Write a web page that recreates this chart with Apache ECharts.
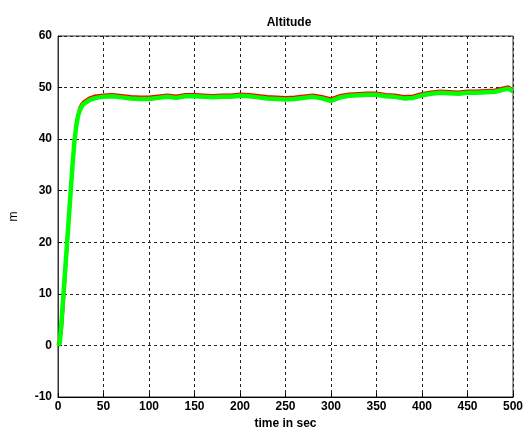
<!DOCTYPE html>
<html lang="en">
<head>
    <meta charset="UTF-8">
    <title>Altitude</title>
    <script type="text/javascript" src="https://cdn.jsdelivr.net/npm/echarts@6/dist/echarts.min.js"></script>
    <style>
        html, body { margin: 0; padding: 0; background: #fff; }
    </style>
</head>
<body>
    <div id="main" style="width: 531px; height: 435px;"></div>
    <script type="text/javascript">
        // time axis (s)
        var times = [0, 2, 4, 6, 8, 10, 12, 14, 16, 18, 20, 22, 24, 26, 28, 30, 35, 40, 45, 50,
            60, 70, 80, 90, 100, 110, 120, 130, 140, 150, 160, 170, 180, 190, 200,
            210, 220, 230, 240, 250, 260, 270, 280, 290, 300, 310, 320, 330, 340, 350,
            360, 370, 380, 390, 400, 410, 420, 430, 440, 450, 460, 470, 480, 490, 495, 500];

        // measured / reference altitude (red)
        var redAlt = [0, 0, 2.5, 7.5, 13, 18.5, 24, 29.5, 35, 40, 43, 45, 46.2, 46.9, 47.3, 47.6, 48.1, 48.4, 48.5, 48.6,
            48.7, 48.5, 48.3, 48.2, 48.2, 48.4, 48.6, 48.4, 48.7, 48.7, 48.6, 48.5, 48.6, 48.6, 48.8,
            48.7, 48.5, 48.3, 48.2, 48.1, 48.2, 48.4, 48.6, 48.3, 47.9, 48.5, 48.8, 48.9, 49.0, 49.0,
            48.7, 48.6, 48.3, 48.4, 48.9, 49.2, 49.4, 49.3, 49.2, 49.4, 49.4, 49.5, 49.6, 50.0, 50.2, 49.6];

        // estimated altitude (green)
        var greenAlt = [0, 0.5, 5, 10, 15, 20, 25, 30, 35, 39.5, 42.5, 44.5, 45.6, 46.3, 46.8, 47.1, 47.6, 47.9, 48.1, 48.2,
            48.3, 48.1, 47.9, 47.8, 47.8, 48.0, 48.2, 48.0, 48.3, 48.3, 48.2, 48.1, 48.2, 48.2, 48.4,
            48.3, 48.1, 47.9, 47.8, 47.7, 47.8, 48.0, 48.2, 47.9, 47.4, 48.1, 48.4, 48.5, 48.6, 48.6,
            48.3, 48.2, 47.9, 48.0, 48.5, 48.8, 49.0, 48.9, 48.8, 49.0, 49.0, 49.1, 49.2, 49.6, 49.8, 49.3];

        function pairs(ys) {
            return times.map(function(t, i) { return [t, ys[i]]; });
        }

        var chartDom = document.getElementById('main');
        var myChart = echarts.init(chartDom);
        var option;

        var labelFont = {
            fontFamily: 'Liberation Sans',
            fontWeight: 'bold',
            fontSize: 12,
            color: '#000'
        };
        var gridLine = {
            show: true,
            lineStyle: { color: '#222', type: [3, 3], width: 1 }
        };

        option = {
            backgroundColor: '#fff',
            animation: false,
            title: {
                text: 'Altitude',
                left: 284,
                top: 12,
                textAlign: 'center',
                textStyle: { fontFamily: 'Liberation Sans', fontWeight: 'bold', fontSize: 12, color: '#000' }
            },
            grid: {
                left: 56,
                right: 18,
                top: 36,
                bottom: 38,
                show: true,
                borderColor: '#333',
                borderWidth: 1
            },
            xAxis: {
                type: 'value',
                min: 0,
                max: 500,
                interval: 50,
                name: 'time in sec',
                nameLocation: 'middle',
                nameGap: 20,
                nameTextStyle: labelFont,
                axisLine: { onZero: false, lineStyle: { color: '#000' } },
                axisTick: { inside: true, length: 4, lineStyle: { color: '#000' } },
                axisLabel: Object.assign({ margin: 4 }, labelFont),
                splitLine: gridLine
            },
            yAxis: {
                type: 'value',
                min: -10,
                max: 60,
                interval: 10,
                name: 'm',
                nameLocation: 'middle',
                nameRotate: 90,
                nameGap: 38,
                nameTextStyle: { fontFamily: 'Liberation Sans', fontSize: 12, color: '#000' },
                axisLine: { show: true, onZero: false, lineStyle: { color: '#333' } },
                axisTick: { show: true, inside: true, length: 4, lineStyle: { color: '#000' } },
                axisLabel: Object.assign({ margin: 6 }, labelFont),
                splitLine: gridLine
            },
            series: [{
                type: 'line',
                data: pairs(redAlt),
                showSymbol: false,
                smooth: false,
                lineStyle: { color: '#ff0000', width: 2.5 },
                z: 2
            }, {
                type: 'line',
                data: pairs(greenAlt),
                showSymbol: false,
                smooth: false,
                lineStyle: { color: '#00ff00', width: 4.5 },
                z: 3
            }]
        };

        option && myChart.setOption(option);
    </script>
</body>
</html>
